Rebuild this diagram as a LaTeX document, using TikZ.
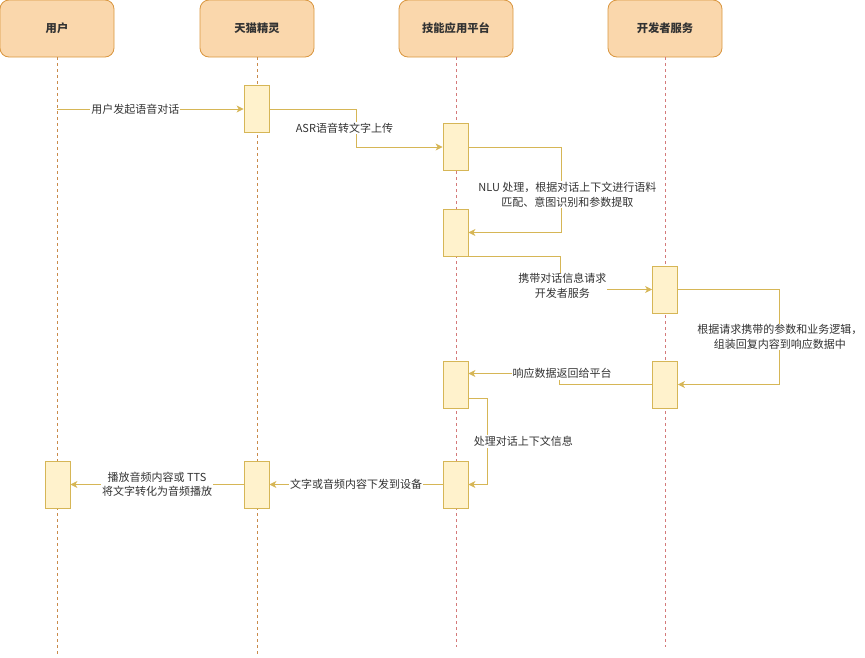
\documentclass[tikz,border=0pt]{standalone}
\usepackage{fontspec}
\newfontfamily\cjk{Noto Sans CJK SC}
\usetikzlibrary{arrows.meta,calc}
\definecolor{headfill}{HTML}{FAD7AC}
\definecolor{headline}{HTML}{D9963F}
\definecolor{actfill}{HTML}{FFF2CC}
\definecolor{actline}{HTML}{D6B656}
\definecolor{lifeuser}{HTML}{C98B4B}
\definecolor{lifesrv}{HTML}{D47A7A}
\definecolor{txt}{HTML}{333333}

\begin{document}
\begin{tikzpicture}[
    x=1pt, y=-1pt,
    head/.style={draw=headline, fill=headfill, rounded corners=9pt,
                 line width=0.8pt, minimum width=114pt, minimum height=57pt,
                 text=txt, font=\cjk\bfseries\fontsize{11.3}{13}\selectfont},
    act/.style={draw=actline, fill=actfill, line width=0.8pt,
                minimum width=25pt, minimum height=47pt, inner sep=0pt},
    life/.style={dash pattern=on 3pt off 3pt, line width=0.9pt},
    msg/.style={draw=actline, line width=0.9pt,
                -{Stealth[length=7pt, width=7pt, inset=2pt]}},
    lbl/.style={fill=white, inner sep=1pt, align=center, text=txt,
                font=\cjk\fontsize{11}{14.5}\selectfont},
]
\useasboundingbox (0,0) rectangle (865,657);

% ---- Participants ----
\node[head] (user) at (57,28.5)    {用户};
\node[head] (tmall) at (257,28.5)  {天猫精灵};
\node[head] (skill) at (456,28.5)  {技能应用平台};
\node[head] (dev) at (665,28.5)    {开发者服务};

\coordinate (userEnd)  at (57,657);
\coordinate (tmallEnd) at (257,657);
\coordinate (skillEnd) at (456,647);
\coordinate (devEnd)   at (665,647);

\draw[life, lifeuser] (user.south) -- (userEnd);
\draw[life, lifeuser] (tmall.south) -- (tmallEnd);
\draw[life, lifesrv] (skill.south) -- (skillEnd);
\draw[life, lifesrv] (dev.south) -- (devEnd);

% ---- Activations ----
\node[act] (ta1) at (256.5,109)   {};
\node[act] (pa1) at (455.5,147)   {};
\node[act] (pa2) at (455.5,232.5) {};
\node[act] (da1) at (665,289.5)   {};
\node[act] (da2) at (665,384.5)   {};
\node[act] (pa3) at (455.5,384.5) {};
\node[act] (pa4) at (455.5,484.5) {};
\node[act] (ta2) at (256.5,484.5) {};
\node[act] (ua)  at (57.5,484.5)  {};

% ---- Messages ----
\draw[msg] (ta1.west -| user) -- node[lbl, pos=0.42]{用户发起语音对话} (ta1.west);
\draw[msg] (ta1.east) -- ++(87,0) |- node[lbl, pos=0.25, xshift=-12pt]{ASR语音转文字上传} (pa1.west);
\draw[msg] (pa1.east) -- ++(93,0) |- node[lbl, pos=0.25, xshift=6pt, yshift=-5pt]
    {NLU 处理，根据对话上下文进行语料\\匹配、意图识别和参数提取} (pa2.east);
\draw[msg] (pa2.south east) -- ++(92,0) |- node[lbl, pos=0.25, xshift=2pt, yshift=-13pt]
    {携带对话信息请求\\开发者服务} (da1.west);
\draw[msg] (da1.east) -- ++(102,0) |- node[lbl, pos=0.25]
    {根据请求携带的参数和业务逻辑，\\组装回复内容到响应数据中} (da2.east);
\draw[msg] (da2.west) -- ++(-93,0) |- node[lbl, pos=0.5, xshift=3pt]{响应数据返回给平台} ([yshift=11pt]pa3.east);
\draw[msg] ([yshift=-14pt]pa3.east) -- ++(19,0) |- node[lbl, pos=0.25, xshift=36pt]{处理对话上下文信息} (pa4.east);
\draw[msg] (pa4.west) -- node[lbl]{文字或音频内容下发到设备} (ta2.east);
\draw[msg] (ta2.west) -- node[lbl]{播放音频内容或 TTS\\将文字转化为音频播放} (ua.east);
\end{tikzpicture}
\end{document}
